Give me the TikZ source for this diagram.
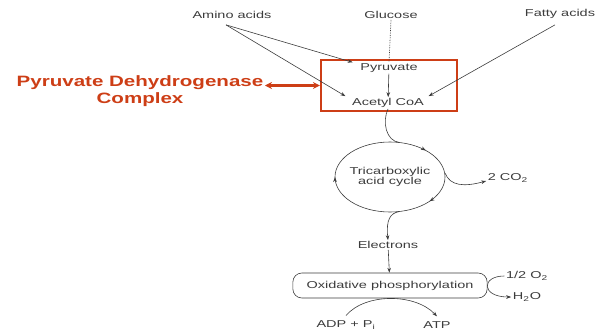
\documentclass[tikz,border=0pt]{standalone}
\usepackage{fontspec}
\setmainfont{Liberation Sans}
\usetikzlibrary{arrows.meta,decorations.markings,calc}
\definecolor{pdh}{RGB}{205,62,22}
\definecolor{ink}{RGB}{60,60,60}
\begin{document}
\begin{tikzpicture}[x=1pt,y=-1pt,
  lbl/.style={font=\fontsize{10}{11}\selectfont, text=ink, xscale=1.45, inner sep=1pt, align=center},
  conn/.style={draw=ink, line width=0.6pt, -{Stealth[length=5pt,width=3.6pt]}},
  plain/.style={draw=ink, line width=0.6pt},
  redlbl/.style={font=\bfseries\fontsize{15}{17}\selectfont, text=pdh, xscale=1.37, align=center, inner sep=1pt},
  midarrows/.style={postaction={decorate}, decoration={markings,
      mark=at position 0.13 with {\arrow{Stealth[length=5pt,width=3.6pt]}},
      mark=at position 0.355 with {\arrow{Stealth[length=5pt,width=3.6pt]}},
      mark=at position 0.75 with {\arrow{Stealth[length=5pt,width=3.6pt]}}}}]
\useasboundingbox (0,0) rectangle (602,335);

% top sources
\node[lbl] (amino) at (232,15) {Amino acids};
\node[lbl] (glu) at (391,15) {Glucose};
\node[lbl] (fatty) at (560,14) {Fatty acids};

% PDH box contents
\node[lbl] (pyr) at (389,68) {Pyruvate};
\node[lbl] (acoa) at (388,103) {Acetyl CoA};
\node[draw=pdh, line width=2.2pt, minimum width=136pt, minimum height=51pt, inner sep=0pt] (pdhbox) at (389,85.5) {};

% red label
\node[redlbl] (pdhlbl) at (140,91.5) {Pyruvate Dehydrogenase\\Complex};
\draw[pdh, line width=2.2pt, {Stealth[length=7pt,width=7pt]}-{Stealth[length=7pt,width=7pt]}]
  (pdhlbl.east |- pdhbox.west) -- (pdhbox.west);

% connectors at top
\draw[conn] ([xshift=-6pt,yshift=-5pt]amino.south) -- ([xshift=-6pt]pyr.north west);
\draw[conn] ([xshift=-6pt,yshift=-5pt]amino.south) -- ([xshift=-5pt,yshift=1pt]acoa.north west);
\draw[conn] ([xshift=-5pt,yshift=-5pt]fatty.south) -- ([xshift=3pt,yshift=1pt]acoa.north east);
\draw[ink, densely dotted, line width=0.7pt] (glu.south) -- (pyr.north);
\draw[conn] (pyr) -- (acoa);

% TCA cycle
\node[lbl, font=\fontsize{10}{10.5}\selectfont] (tca) at (390,177) {Tricarboxylic\\acid cycle};
\draw[plain, midarrows] (tca.center) ++(0,-35) arc[start angle=-90, end angle=270, x radius=55, y radius=35];
\coordinate (tcatop) at ($(tca.center)+(9.5,-34.5)$);
\coordinate (tcaright) at ($(tca.center)+(55,-4)$);
\coordinate (tcabot) at ($(tca.center)+(9.5,34.5)$);
\draw[plain] (acoa.south) .. controls (382,122) and (386,141) .. (tcatop);

\node[lbl] (co2) at (508,178) {2 CO\textsubscript{2}};
\draw[conn] (tcaright) .. controls (450,186) and (464,187) .. ([yshift=-3pt]co2.west);

\node[lbl] (elec) at (388,245) {Electrons};
\draw[conn] (tcabot) .. controls (390,213) and (386,220) .. (elec.north);

% oxidative phosphorylation
\node[lbl, draw=ink, line width=0.6pt, rounded corners=9pt, minimum width=134pt, minimum height=25pt] (ox) at (390,285.5) {Oxidative phosphorylation};
\draw[conn] (elec) -- (ox);

\node[lbl] (o2) at (527,276) {1/2 O\textsubscript{2}};
\node[lbl] (h2o) at (527,297) {H\textsubscript{2}O};
\draw[conn] (o2.west) .. controls (481,276) and (481,297) .. (h2o.west);

\node[lbl] (adp) at (346,325) {ADP + P\textsubscript{i}};
\node[lbl] (atp) at (437,325) {ATP};
\draw[conn] ([yshift=4pt]adp.north) .. controls (365,293) and (415,293) .. ([yshift=4pt]atp.north);
\end{tikzpicture}
\end{document}
